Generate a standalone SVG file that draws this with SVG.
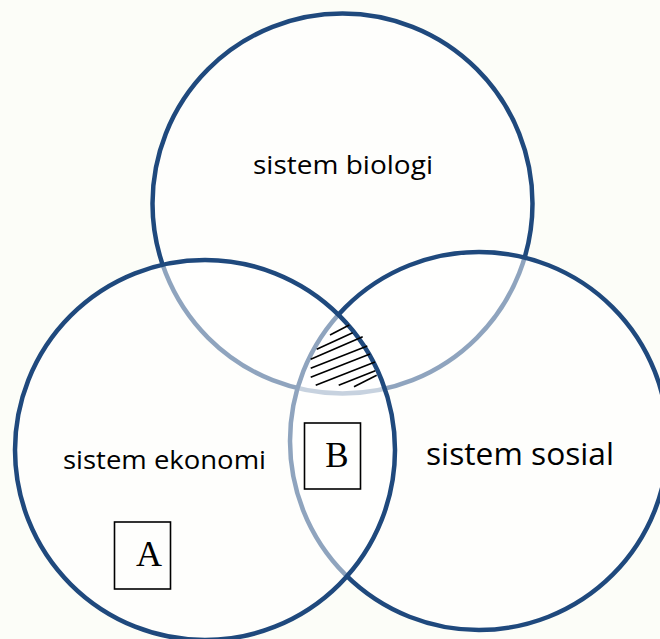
<svg xmlns="http://www.w3.org/2000/svg" width="660" height="639" viewBox="0 0 660 639">
<style>
.ring{fill:#ffffff;fill-opacity:0.5;stroke:#1F497D;stroke-width:4.5}
.lbl{font-family:"Open Sans","Liberation Sans",sans-serif;fill:#000000}
.box{fill:none;stroke:#000000;stroke-width:1.6}
.let{font-family:"Liberation Serif","DejaVu Serif",serif;fill:#000000;text-anchor:middle}
.hatch line{stroke:#000000;stroke-width:1.6}
</style>
<rect width="660" height="639" fill="#fcfdf8"/>
<g id="biologi">
<circle class="ring" cx="342.5" cy="203.5" r="190"/>
<text class="lbl" x="253" y="174" font-size="26" textLength="180" lengthAdjust="spacingAndGlyphs">sistem biologi</text>
</g>
<g id="sosial">
<circle class="ring" cx="479" cy="441" r="189"/>
<text class="lbl" x="426" y="465" font-size="31" textLength="188" lengthAdjust="spacingAndGlyphs">sistem sosial</text>
</g>
<g id="ekonomi">
<circle class="ring" cx="205" cy="450" r="190"/>
<text class="lbl" x="63" y="469" font-size="26" textLength="203" lengthAdjust="spacingAndGlyphs">sistem ekonomi</text>
</g>
<g id="hatch" class="hatch">
<line x1="330" y1="335" x2="349.3" y2="325"/>
<line x1="316.7" y1="349.3" x2="352.7" y2="332.7"/>
<line x1="310.7" y1="359.3" x2="362.7" y2="336.7"/>
<line x1="310.7" y1="368.3" x2="367.3" y2="346"/>
<line x1="310.7" y1="377.3" x2="370" y2="354"/>
<line x1="315.7" y1="385.3" x2="375" y2="362"/>
<line x1="338.7" y1="385.3" x2="375.3" y2="370.7"/>
<line x1="354" y1="386.7" x2="376.7" y2="375.3"/>
</g>
<g id="B">
<rect class="box" x="304.5" y="423" width="56" height="66"/>
<text class="let" x="337" y="467" font-size="35">B</text>
</g>
<g id="A">
<rect class="box" x="114.5" y="522" width="56" height="67"/>
<text class="let" x="149" y="566" font-size="36">A</text>
</g>
<g id="connectors"/>
</svg>
